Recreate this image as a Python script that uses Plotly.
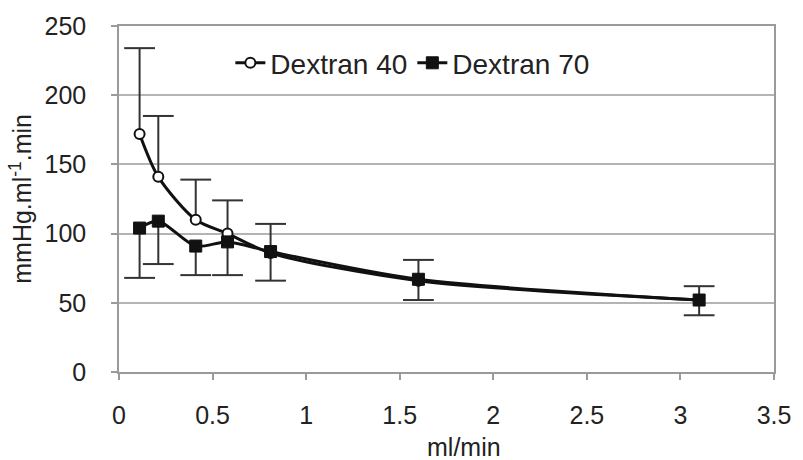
import plotly.graph_objects as go

# ---- data ----
flow = [0.11, 0.21, 0.41, 0.58, 0.81, 1.6, 3.1]          # ml/min
dex40 = [172, 141, 110, 100, 86, 66, 52]                  # mmHg.ml-1.min
dex40_sd = [62, 44, 29, 24, 21, 15, 10]                   # upward error
dex70 = [104, 109, 91, 94, 87, 67, 52]
dex70_sd = [36, 31, 21, 24, 21, 15, 11]                   # downward error
x_ticks = [0, 0.5, 1, 1.5, 2, 2.5, 3, 3.5]
x_tick_text = ["0", "0.5", "1", "1.5", "2", "2.5", "3", "3.5"]
y_ticks = [0, 50, 100, 150, 200, 250]

FONT = "Liberation Sans, Arial, sans-serif"
TXT = "#222222"
ERR = "#333333"

fig = go.Figure()

# error bar stems (no caps) – Dextran 40 upward, Dextran 70 downward
fig.add_trace(go.Scatter(
    x=flow, y=dex40, mode="markers", marker=dict(size=1, opacity=0),
    error_y=dict(type="data", symmetric=False, array=dex40_sd,
                 arrayminus=[0] * len(dex40_sd), width=0,
                 color=ERR, thickness=2),
    showlegend=False, hoverinfo="skip"))
fig.add_trace(go.Scatter(
    x=flow, y=dex70, mode="markers", marker=dict(size=1, opacity=0),
    error_y=dict(type="data", symmetric=False, array=[0] * len(dex70_sd),
                 arrayminus=dex70_sd, width=0, color=ERR, thickness=2),
    showlegend=False, hoverinfo="skip"))
# caps
fig.add_trace(go.Scatter(
    x=flow + flow,
    y=[v + e for v, e in zip(dex40, dex40_sd)] + [v - e for v, e in zip(dex70, dex70_sd)],
    mode="markers",
    marker=dict(symbol="line-ew", size=22, line=dict(width=2, color=ERR)),
    showlegend=False, hoverinfo="skip"))

# series
fig.add_trace(go.Scatter(
    x=flow, y=dex40, name="Dextran 40", mode="lines+markers",
    line=dict(color="#111111", width=3, shape="spline", smoothing=0.8),
    marker=dict(symbol="circle", size=10, color="white",
                line=dict(color="#111111", width=2))))
fig.add_trace(go.Scatter(
    x=flow, y=dex70, name="Dextran 70", mode="lines+markers",
    line=dict(color="#111111", width=3, shape="spline", smoothing=0.8),
    marker=dict(symbol="square", size=12, color="#111111",
                line=dict(color="#111111", width=1))))

fig.update_layout(
    width=803, height=460,
    margin=dict(l=119, r=27, t=25, b=88),
    paper_bgcolor="white", plot_bgcolor="white",
    font=dict(family=FONT, size=25, color=TXT),
    showlegend=True,
    legend=dict(orientation="h", x=0.17, y=0.965, xanchor="left", yanchor="top",
                bgcolor="rgba(0,0,0,0)", font=dict(size=28, color=TXT),
                itemwidth=30, tracegroupgap=0),
    xaxis=dict(range=[0, 3.5], tickvals=x_ticks, ticktext=x_tick_text,
               showgrid=False, zeroline=False,
               showline=True, linecolor="#9a9a9a", linewidth=1.5, mirror=True,
               ticks="outside", ticklen=6, tickcolor="#9a9a9a", tickwidth=1.5,
               ticklabelstandoff=14, tickfont=dict(size=25, color=TXT)),
    yaxis=dict(range=[0, 250], tickvals=y_ticks,
               showgrid=True, gridcolor="#b4b4b4", gridwidth=1.5, zeroline=False,
               showline=True, linecolor="#9a9a9a", linewidth=1.5, mirror=True,
               ticks="outside", ticklen=6, tickcolor="#9a9a9a", tickwidth=1.5,
               ticklabelstandoff=20, tickfont=dict(size=25, color=TXT)),
    annotations=[
        dict(text="mmHg.ml<sup>-1</sup>.min", xref="paper", yref="paper",
             x=-0.15, y=0.5, textangle=-90, showarrow=False,
             xanchor="center", yanchor="middle", font=dict(size=25, color=TXT)),
        dict(text="ml/min", xref="paper", yref="paper",
             x=0.527, y=-0.216, showarrow=False,
             xanchor="center", yanchor="middle", font=dict(size=25, color=TXT)),
    ],
)

fig.write_html("out.html", config={"displayModeBar": False},
               post_script="document.body.style.margin='0';document.body.style.padding='0';")
